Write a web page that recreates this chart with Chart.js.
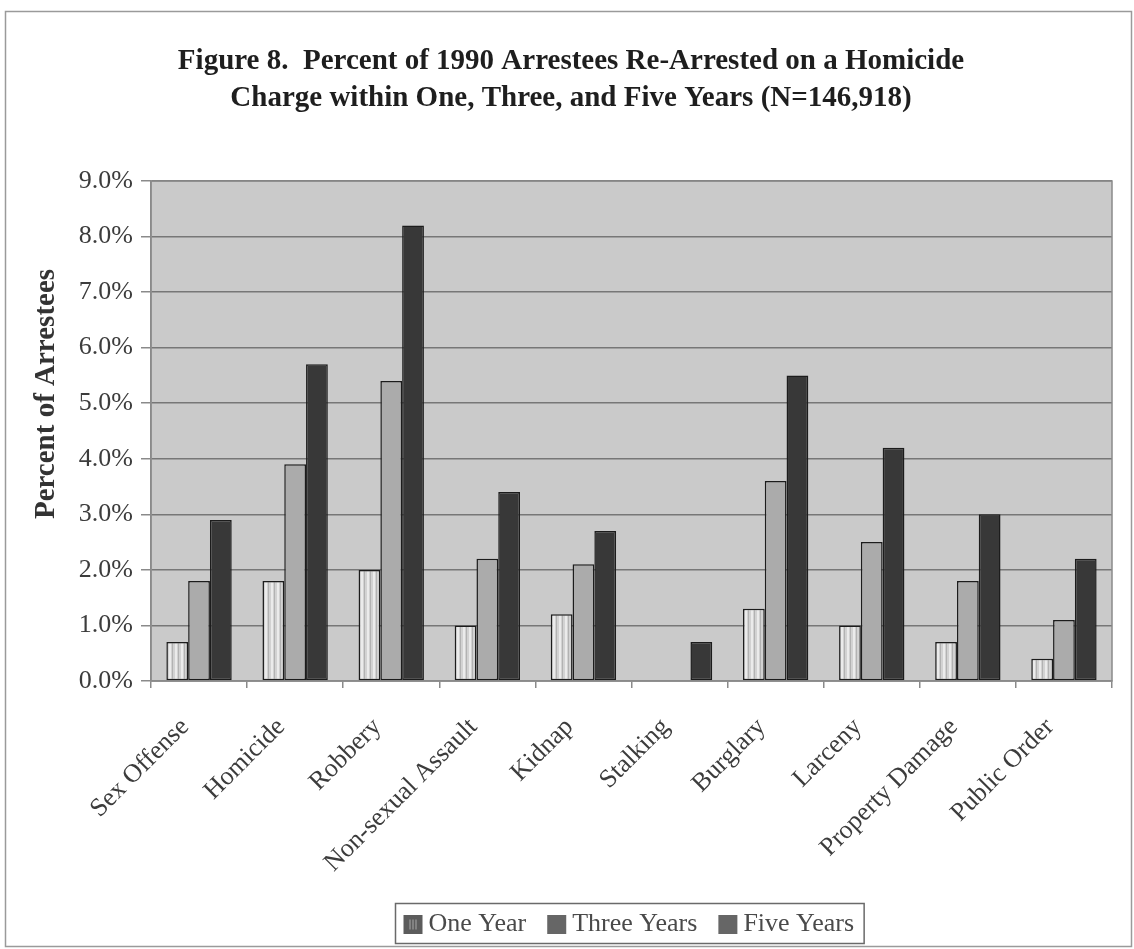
<!DOCTYPE html>
<html>
<head>
<meta charset="utf-8">
<script src="https://cdn.jsdelivr.net/npm/chart.js@4.4.1/dist/chart.umd.min.js"></script>
<style>
  html, body { margin: 0; padding: 0; background: #ffffff; }
  #wrap { width: 1134px; height: 949px; }
</style>
</head>
<body>
<div id="wrap"><canvas id="c" width="1134" height="949"></canvas></div>
<script>
// Offense categories of the 1990 arrest charge
const categories = ['Sex Offense', 'Homicide', 'Robbery', 'Non-sexual Assault', 'Kidnap',
                    'Stalking', 'Burglary', 'Larceny', 'Property Damage', 'Public Order'];

// Percent re-arrested on a homicide charge
const oneYear    = [0.7, 1.8, 2.0, 1.0, 1.2, 0.0, 1.3, 1.0, 0.7, 0.4];
const threeYears = [1.8, 3.9, 5.4, 2.2, 2.1, 0.0, 3.6, 2.5, 1.8, 1.1];
const fiveYears  = [2.9, 5.7, 8.2, 3.4, 2.7, 0.7, 5.5, 4.2, 3.0, 2.2];

const seriesNames = ['One Year', 'Three Years', 'Five Years'];
const yTickValues = [0, 1, 2, 3, 4, 5, 6, 7, 8, 9];

const titleLines = [
  'Figure 8.  Percent of 1990 Arrestees Re-Arrested on a Homicide',
  'Charge within One, Three, and Five Years (N=146,918)'
];
const yAxisTitle = 'Percent of Arrestees';

const SERIF = '"Liberation Serif", "Times New Roman", serif';

// Light fill with thin vertical stripes for the one-year bars
function stripePattern() {
  const t = document.createElement('canvas');
  t.width = 6; t.height = 6;
  const g = t.getContext('2d');
  g.fillStyle = '#d2d2d2'; g.fillRect(0, 0, 6, 6);
  g.fillStyle = '#ebebeb'; g.fillRect(1, 0, 2, 6);
  g.fillStyle = '#b2b2b2'; g.fillRect(4, 0, 1, 6);
  return document.getElementById('c').getContext('2d').createPattern(t, 'repeat');
}
const oneYearFill = stripePattern();

const seriesStyles = [
  { fill: oneYearFill, key: '#5c5c5c' },
  { fill: '#ababab',   key: '#666666' },
  { fill: '#383838',   key: '#666666' }
];

// Page frame, headline, plot background, axis title and boxed legend
const decor = {
  id: 'decor',
  beforeDraw(chart) {
    const ctx = chart.ctx;
    const a = chart.chartArea;
    ctx.save();
    ctx.fillStyle = '#ffffff';
    ctx.fillRect(0, 0, chart.width, chart.height);
    ctx.strokeStyle = '#9a9a9a';
    ctx.lineWidth = 1.5;
    ctx.strokeRect(5.5, 11.5, 1126, 935);
    ctx.fillStyle = '#cacaca';
    ctx.fillRect(a.left, a.top, a.right - a.left, a.bottom - a.top);
    ctx.restore();
  },
  afterDraw(chart) {
    const ctx = chart.ctx;
    const a = chart.chartArea;
    ctx.save();
    // headline
    ctx.fillStyle = '#1e1e1e';
    ctx.font = 'bold 29px ' + SERIF;
    ctx.textAlign = 'center';
    ctx.textBaseline = 'middle';
    ctx.fillText(titleLines[0], 571, 62);
    ctx.fillText(titleLines[1], 571, 99);

    // plot frame
    ctx.strokeStyle = '#8a8a8a';
    ctx.lineWidth = 1.5;
    ctx.strokeRect(a.left, a.top, a.right - a.left, a.bottom - a.top);

    // y axis title
    ctx.save();
    ctx.translate(47, 394);
    ctx.rotate(-Math.PI / 2);
    ctx.font = 'bold 29px ' + SERIF;
    ctx.fillStyle = '#333333';
    ctx.textAlign = 'center';
    ctx.textBaseline = 'middle';
    ctx.fillText(yAxisTitle, 0, 0);
    ctx.restore();

    // legend
    ctx.font = '26px ' + SERIF;
    ctx.textBaseline = 'middle';
    ctx.textAlign = 'left';
    const box = { x: 395.5, y: 903.5, h: 40 };
    let x = box.x + 8;
    const cy = box.y + box.h / 2 + 1;
    const items = seriesNames.map((name, i) => {
      const w = ctx.measureText(name).width;
      const it = { name, i, x, w };
      x += 19 + 6 + w + 21;
      return it;
    });
    const boxW = x - 21 + 10 - box.x;
    ctx.strokeStyle = '#6a6a6a';
    ctx.lineWidth = 1.5;
    ctx.strokeRect(box.x, box.y, boxW, box.h);
    items.forEach(it => {
      ctx.fillStyle = seriesStyles[it.i].key;
      ctx.fillRect(it.x, cy - 9.5, 19, 19);
      if (it.i === 0) {
        ctx.fillStyle = '#a8a8a8';
        ctx.fillRect(it.x + 6, cy - 5, 1, 10);
        ctx.fillRect(it.x + 9, cy - 5, 1, 10);
        ctx.fillRect(it.x + 12, cy - 5, 1, 10);
      }
      ctx.fillStyle = '#4a4a4a';
      ctx.fillText(it.name, it.x + 25, cy);
    });
    ctx.restore();
  }
};

const datasets = [oneYear, threeYears, fiveYears].map((vals, i) => ({
  label: seriesNames[i],
  data: vals,
  backgroundColor: seriesStyles[i].fill,
  borderColor: '#1c1c1c',
  borderWidth: 1.5,
  borderSkipped: false,
  categoryPercentage: 0.68,
  barPercentage: 1.0
}));

new Chart(document.getElementById('c'), {
  type: 'bar',
  data: { labels: categories, datasets },
  plugins: [decor],
  options: {
    responsive: false,
    animation: false,
    devicePixelRatio: 1,
    layout: { padding: { top: 181, right: 22, bottom: 0, left: 0 } },
    plugins: {
      legend: { display: false },
      tooltip: { enabled: false },
      title: { display: false }
    },
    scales: {
      y: {
        min: 0,
        max: 9,
        afterBuildTicks(scale) { scale.ticks = yTickValues.map(v => ({ value: v })); },
        afterFit(scale) { scale.width = 151; },
        ticks: {
          callback: v => v.toFixed(1) + '%',
          color: '#3c3c3c',
          font: { family: SERIF, size: 26 },
          padding: 8
        },
        grid: { color: '#777777', lineWidth: 1.5, tickLength: 10, tickColor: '#8a8a8a', tickWidth: 1.5 },
        border: { display: true, color: '#8a8a8a', width: 1.5 }
      },
      x: {
        afterFit(scale) { scale.height = 949 - 681; },
        ticks: {
          autoSkip: false,
          maxRotation: 45,
          minRotation: 45,
          color: '#3c3c3c',
          font: { family: SERIF, size: 26 },
          padding: 24,
          labelOffset: -14
        },
        grid: { drawOnChartArea: false, drawTicks: true, tickLength: 7, offset: true, color: '#8a8a8a', lineWidth: 1.5 },
        border: { display: true, color: '#8a8a8a', width: 1.5 }
      }
    }
  }
});
</script>
</body>
</html>
